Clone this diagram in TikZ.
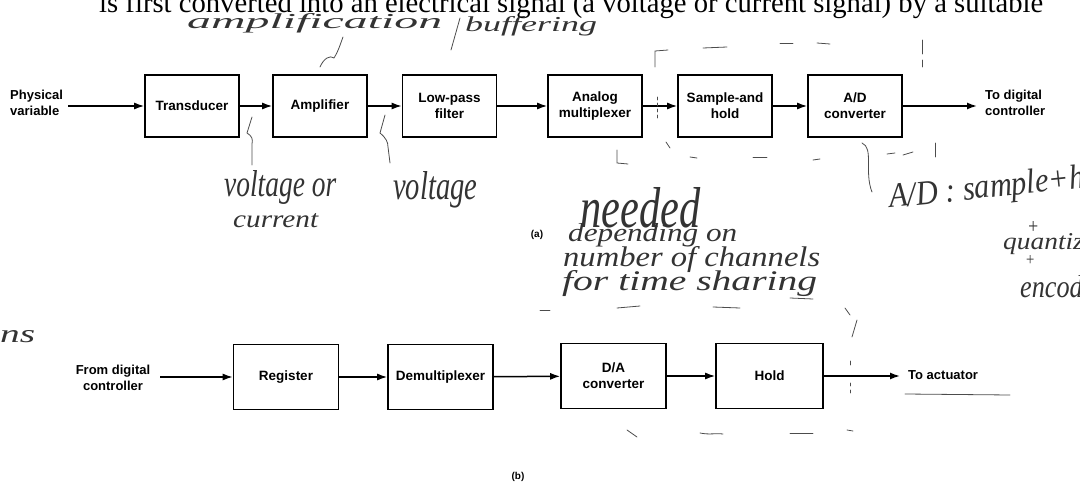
\documentclass[tikz,border=0pt]{standalone}
\usepackage{fontspec}
\setmainfont{Liberation Serif}
\newfontfamily\lab{Liberation Sans}
\newfontfamily\hwf{Liberation Serif}
\usetikzlibrary{arrows.meta}
\newcommand\hwtext[3]{\resizebox{#1pt}{#2pt}{\hwf\itshape #3}}
\begin{document}
\begin{tikzpicture}[x=1pt,y=-1pt,
  blk/.style={draw, line width=1.6pt, minimum width=94pt, minimum height=62pt, inner sep=0pt, align=center,
    font=\lab\bfseries\fontsize{13.5}{16}\selectfont},
  wblk/.style={blk, minimum width=105pt, minimum height=65pt},
  lbl/.style={inner sep=0pt, font=\lab\bfseries\fontsize{13}{15.5}\selectfont},
  conn/.style={line width=1.5pt, -{Latex[length=10pt,width=7pt]}},
  hw/.style={inner sep=0pt, anchor=base west, text=black!80},
  sk/.style={line width=0.8pt, black!70, line cap=round}]
\useasboundingbox (0,0) rectangle (1080,484);
\clip (0,0) rectangle (1080,484);
% cut-off printed text line at the top
\node[inner sep=0pt, anchor=base west] (toptext) at (99,13)
  {\resizebox{944pt}{!}{\fontsize{24}{26}\selectfont is first converted into an electrical signal (a voltage or current signal) by a suitable}};
% (a) row
\node[blk] (trans) at (192,106) {Transducer};
\node[blk] (amp)   at (320,106) {Amplifier};
\node[blk] (lpf)   at (449.5,106) {Low-pass\\filter};
\node[blk] (mux)   at (595,106) {Analog\\multiplexer};
\node[blk] (sh)    at (725,106) {Sample-and\\hold};
\node[blk] (adc)   at (855,106) {A/D\\converter};
\node[lbl, anchor=west, align=left] (phys) at (10,103) {Physical\\variable};
\node[lbl, anchor=west, align=left] (todig) at (985,103) {To digital\\controller};
\coordinate (pin) at (68,106);
\coordinate (pout) at (977,106);
\draw[conn] (pin) -- (trans);
\draw[conn] (trans) -- (amp);
\draw[conn] (amp) -- (lpf);
\draw[conn] (lpf) -- (mux);
\draw[conn] (mux) -- (sh);
\draw[conn] (sh) -- (adc);
\draw[conn] (adc) -- (pout);
\node[lbl, font=\lab\bfseries\fontsize{10}{12}\selectfont] (capa) at (537,235) {(a)};
% (b) row
\node[wblk] (reg)   at (286,377) {Register};
\node[wblk] (demux) at (440.5,377) {Demultiplexer};
\node[wblk] (dac)   at (613.5,376) {D/A\\converter};
\node[wblk, minimum width=107pt] (hold) at (769.5,376) {Hold};
\node[lbl, align=center] (fromdig) at (113,378) {From digital\\controller};
\node[lbl, anchor=west] (toact) at (908,375) {To actuator};
\coordinate (qin) at (160,377);
\coordinate (qout) at (900,376);
\draw[conn] (qin) -- (reg);
\draw[conn] (reg) -- (demux);
\draw[conn] (demux) -- (dac);
\draw[conn] (dac) -- (hold);
\draw[conn] (hold) -- (qout);
\node[lbl, font=\lab\bfseries\fontsize{10}{12}\selectfont] (capb) at (518,477) {(b)};
% handwritten notes
\node[hw] (n1a) at (187,29) {\hwtext{255}{15}{amplification}};
\draw[sk] (460,18) -- (451,50);
\node[hw] (n1b) at (465,32) {\hwtext{132}{15}{buffering}};
\draw[sk] (320,67) .. controls (324,58) and (330,55) .. (334,58) .. controls (338,52) and (340,45) .. (343,37);
\draw[sk] (252,117) -- (247,133) .. controls (252,136) and (253,139) .. (252,144) -- (252,165);
\node[hw] (n2) at (224,197) {\hwtext{112}{26}{voltage or}};
\node[hw] (n3) at (233,228) {\hwtext{85}{14}{current}};
\draw[sk] (385,115) -- (380,133) .. controls (386,138) and (388,142) .. (388,147) -- (390,163);
\node[hw] (n4) at (393,200) {\hwtext{84}{28}{voltage}};
\node[hw] (n5) at (580,227) {\hwtext{120}{40}{needed}};
\node[hw] (n6) at (568,242) {\hwtext{169}{18}{depending on}};
\node[hw] (n7) at (563,266) {\hwtext{257}{20}{number of channels}};
\node[hw] (n8) at (562,290) {\hwtext{255}{20}{for time sharing}};
\draw[sk] (790,298) -- (813,299);
\node[hw, rotate=6] (n9) at (890,208) {\hwtext{235}{24}{A/D : sample+hold}};
\node[hw, anchor=center] (p1) at (1033,228) {\hwtext{12}{12}{+}};
\node[hw] (n10) at (1003,250) {\hwtext{137}{16}{quantization}};
\node[hw, anchor=center] (p2) at (1030,260) {\hwtext{10}{10}{+}};
\node[hw] (n11) at (1020,297) {\hwtext{96}{22}{encoding}};
\node[hw] (n12) at (0,342) {\hwtext{35}{12}{ns}};
% hand-drawn bracket (a)
\draw[sk] (655,67) -- (655,51) -- (668,50);
\draw[sk] (703,48) -- (727,47);
\draw[sk] (780,43) -- (793,43);
\draw[sk] (817,43) -- (830,44);
\draw[sk] (922,40) -- (922,54);
\draw[sk] (922,60) -- (922,67);
\draw[sk, dash pattern=on 3pt off 3pt] (657,97) -- (657,120);
\draw[sk] (617,150) -- (617,163) -- (628,164);
\draw[sk] (666,142) -- (670,148);
\draw[sk] (690,157) -- (697,158);
\draw[sk] (753,157) -- (767,157);
\draw[sk] (813,160) -- (820,159);
\draw[sk] (862,143) .. controls (874,148) and (864,172) .. (872,192);
\draw[sk] (887,154) -- (895,153);
\draw[sk] (903,155) -- (913,152);
\draw[sk] (935,143) -- (935,157);
% hand-drawn bracket (b)
\draw[sk] (540,310) -- (550,310);
\draw[sk] (617,308) -- (640,306);
\draw[sk] (713,307) -- (740,308);
\draw[sk] (845,308) -- (850,315);
\draw[sk] (852,337) -- (857,320);
\draw[sk] (850,361) -- (850,365);
\draw[sk] (850,383) -- (850,386);
\draw[sk] (850,390) -- (850,393);
\draw[sk] (627,430) -- (637,437);
\draw[sk] (700,433) .. controls (710,435) and (715,433) .. (723,434);
\draw[sk] (790,433) -- (813,433);
\draw[sk] (847,430) -- (853,431);
\draw[sk] (905,394) -- (1010,395);
\end{tikzpicture}
\end{document}
